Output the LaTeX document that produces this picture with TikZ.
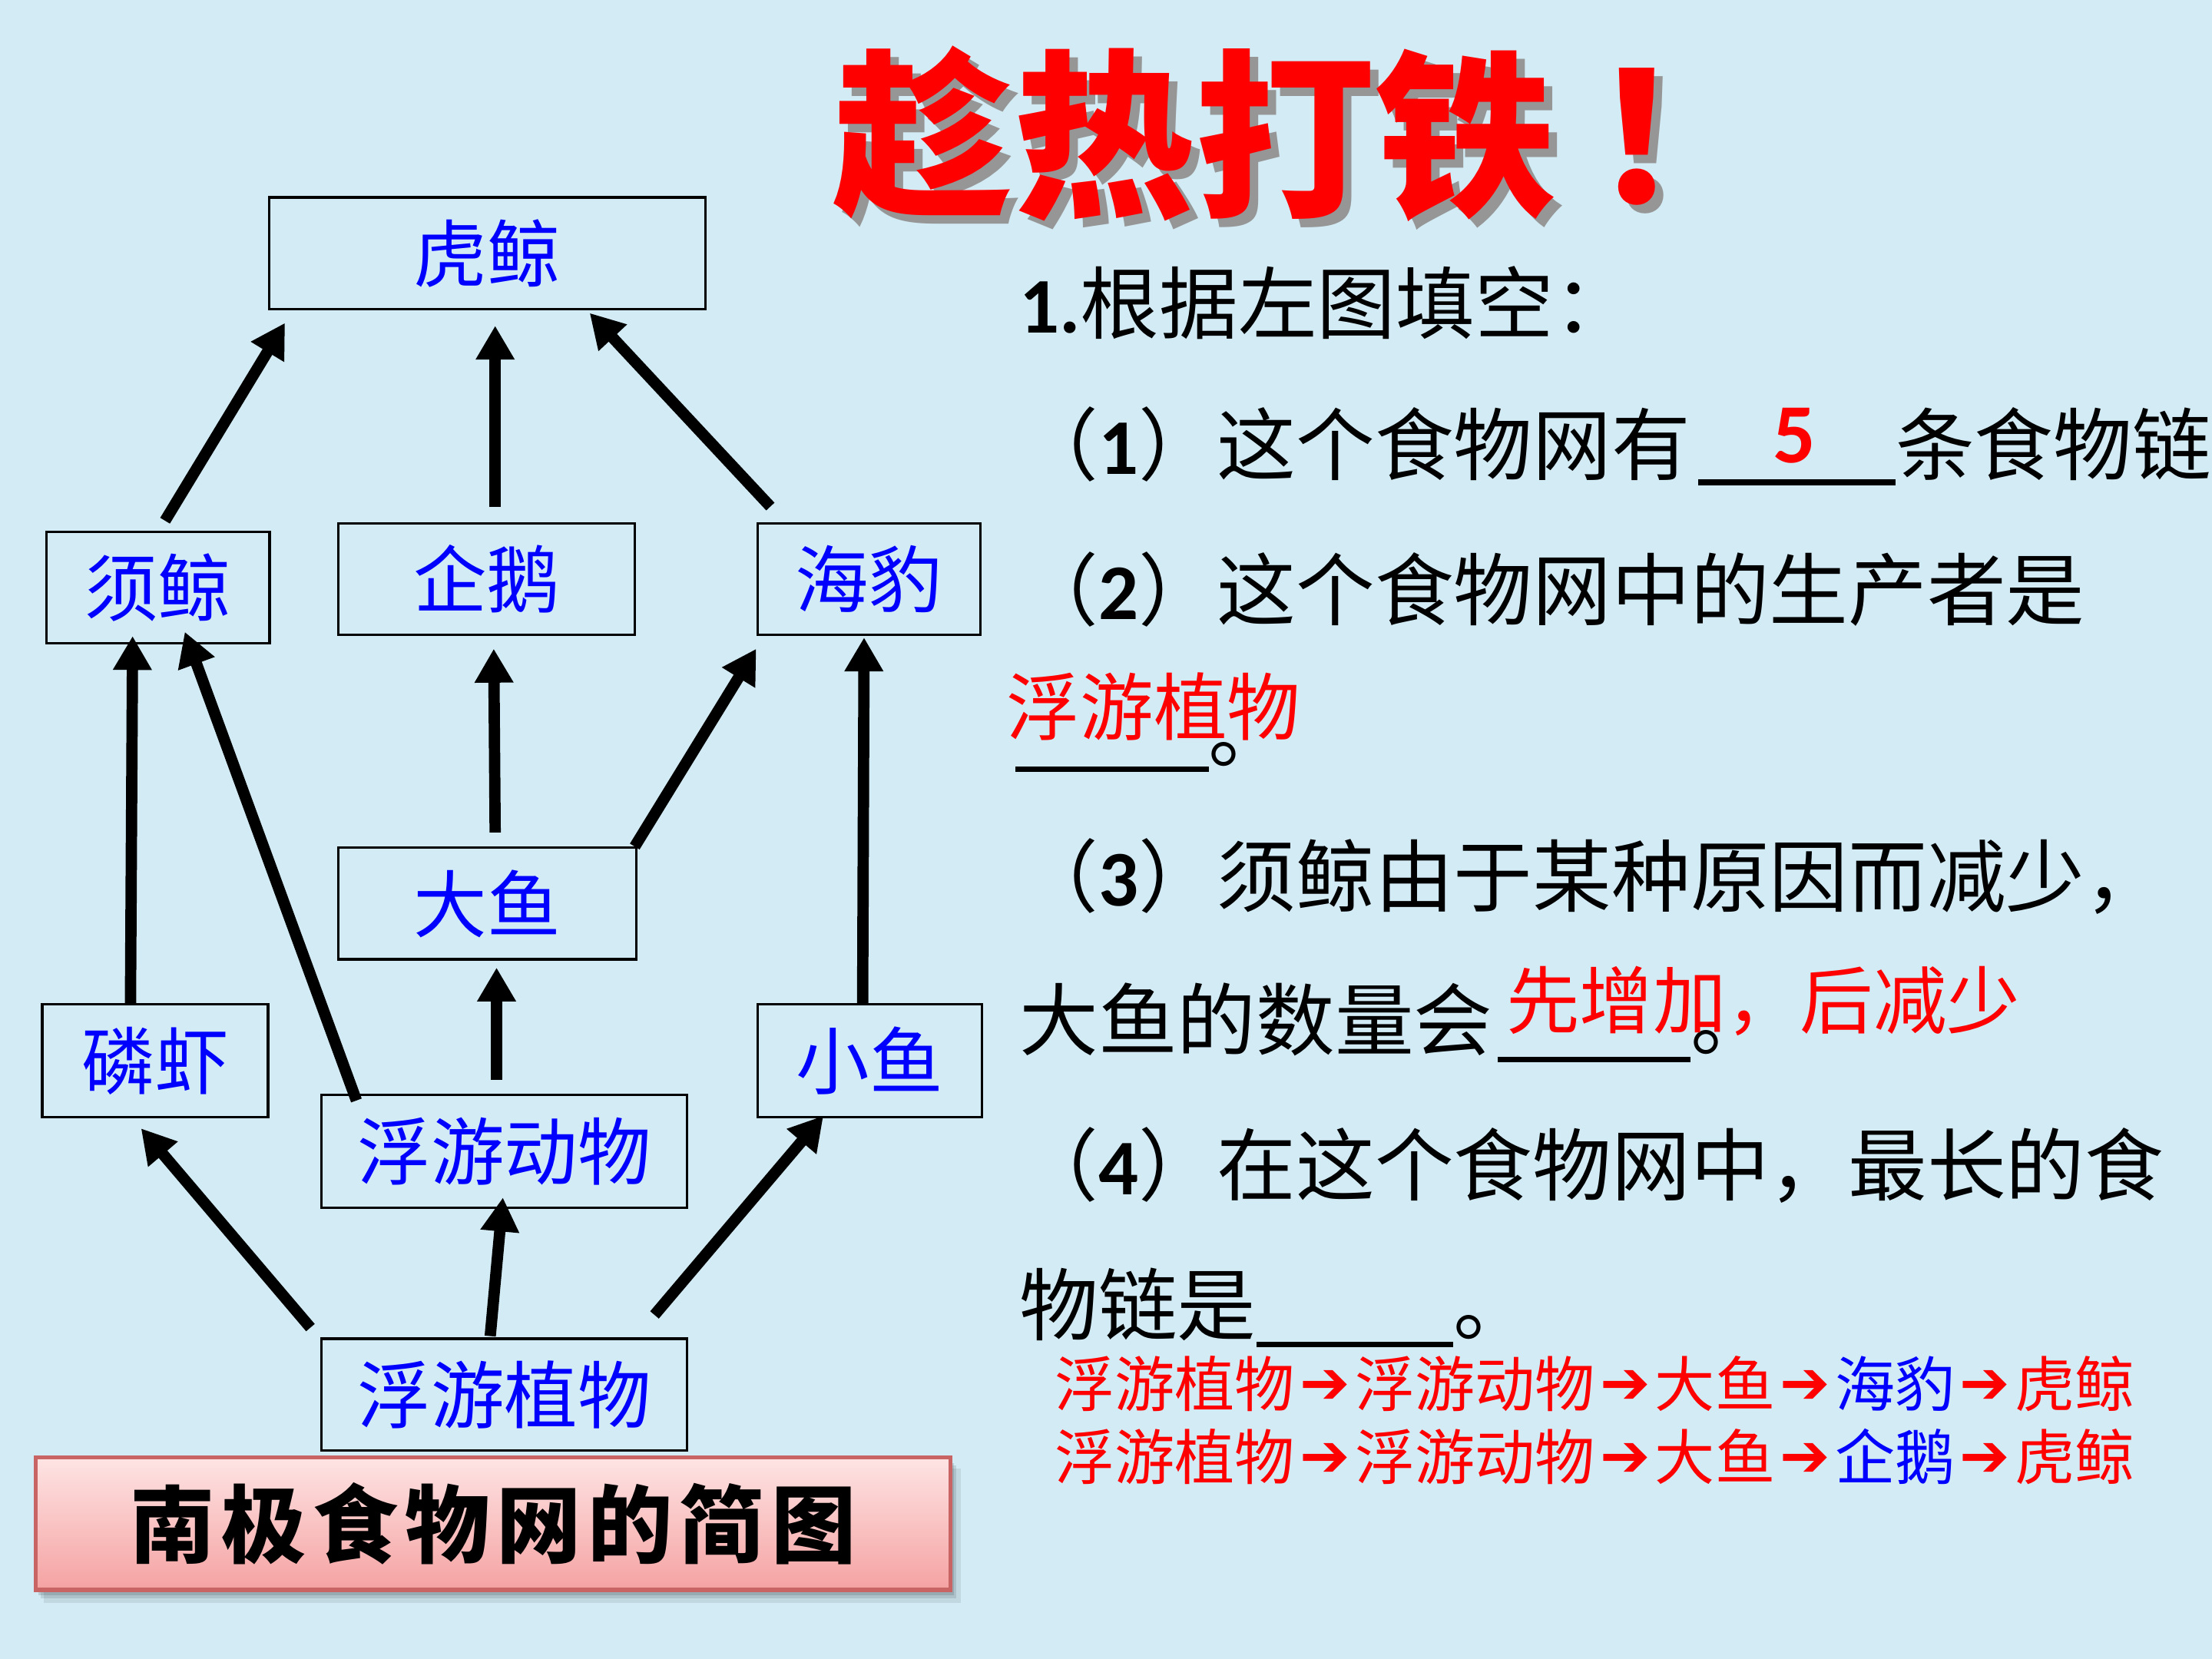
\documentclass[tikz,border=0pt]{standalone}
\usepackage{fontspec}
\newfontfamily\cjk{Noto Sans CJK SC}
\newfontfamily\cjkls[LetterSpace=8]{Noto Sans CJK SC}
\newfontfamily\lat{Carlito}
\newfontfamily\dv{DejaVu Sans}
\usetikzlibrary{arrows.meta,calc}
\definecolor{bgblue}{RGB}{210,235,245}
\definecolor{pinktop}{RGB}{254,228,228}
\definecolor{pinkbot}{RGB}{245,162,162}
\definecolor{pinkedge}{RGB}{200,100,100}
\definecolor{shadowgray}{RGB}{150,150,150}
\newcommand\dg[1]{{\lat\bfseries #1}}
\newcommand\chainarr{\makebox[1em]{\raisebox{0.05em}{\dv\bfseries ➔}}}
\begin{document}
\begin{tikzpicture}[x=0.01cm,y=-0.01cm,
  box/.style={draw=black,line width=0.5pt,inner sep=0pt,text=blue,font=\cjk\fontsize{14.8pt}{16pt}\selectfont},
  arr/.style={line width=0.08cm,-{Triangle[length=0.24cm,width=0.26cm]}},
  txt/.style={anchor=base west,inner sep=0pt,font=\cjk\fontsize{15.9pt}{17pt}\selectfont},
  redtxt/.style={anchor=base west,inner sep=0pt,text=red,font=\cjk\fontsize{14.8pt}{16pt}\selectfont},
  chain/.style={anchor=base west,inner sep=0pt,text=red,font=\cjk\fontsize{12.1pt}{13pt}\selectfont},
  titlefont/.style={anchor=base west,inner sep=0pt,font=\cjk\bfseries\fontsize{36.4pt}{40pt}\selectfont}
]
\useasboundingbox (0,0) rectangle (1568,1176);
\fill[bgblue] (0,0) rectangle (1568,1176);
\begin{scope}
\clip (0,0) rectangle (1568,1176);

% title
\node[titlefont,text=shadowgray] (titleshadow) at (596,150) {趁热打铁\kern0.2em！};
\node[titlefont,text=red] (title) at (590,144) {趁热打铁\kern0.2em！};

% food web boxes
\node[box,minimum width=3.09cm,minimum height=0.79cm] (hj) at (345.5,179.5) {虎鲸};
\node[box,minimum width=1.58cm,minimum height=0.79cm] (xj) at (112,416.5) {须鲸};
\node[box,minimum width=2.10cm,minimum height=0.79cm] (qe) at (345,410.5) {企鹅};
\node[box,minimum width=1.58cm,minimum height=0.79cm] (hb) at (616,410.5) {海豹};
\node[box,minimum width=2.11cm,minimum height=0.79cm] (dy) at (345.5,640.5) {大鱼};
\node[box,minimum width=1.60cm,minimum height=0.80cm] (lx) at (110,752) {磷虾};
\node[box,minimum width=2.59cm,minimum height=0.80cm] (fd) at (357.5,816) {浮游动物};
\node[box,minimum width=1.59cm,minimum height=0.80cm] (xy) at (616.5,752) {小鱼};
\node[box,minimum width=2.59cm,minimum height=0.79cm] (fz) at (357.5,988.5) {浮游植物};

% arrows
\draw[arr] ($(xj.north)+(5,-7)$) -- ($(hj.south west)+(12,9)$);
\draw[arr] ($(qe.north)+(6,-11)$) -- ($(hj.south)+(5.5,11)$);
\draw[arr] ($(hb.north west)+(10,-11)$) -- ($(hj.south)+(72.5,2)$);
\draw[arr] ($(lx.north)+(-17.5,0)$) -- ($(xj.south)+(-18,-6)$);
\draw[arr] ($(fd.north west)+(25.6,5)$) -- ($(xj.south)+(19,-9)$);
\draw[arr] ($(dy.north)+(5.5,-10)$) -- ($(qe.south)+(5,9)$);
\draw[arr] ($(dy.north east)+(-2,0)$) -- ($(hb.south west)+(0,9)$);
\draw[arr] ($(xy.north)+(-5,0)$) -- ($(hb.south)+(-3.5,1)$);
\draw[arr] ($(fd.north)+(-5.5,-9.5)$) -- ($(dy.south)+(6.5,5)$);
\draw[arr] ($(fz.north west)+(-7,-7)$) -- ($(lx.south)+(-10,7)$);
\draw[arr] ($(fz.north)+(-10,-1)$) -- ($(fd.south)+(-1,-8)$);
\draw[arr] ($(fz.north east)+(-24,-16)$) -- ($(xy.south west)+(47.6,-2)$);

% caption box with shadow
\fill[black,opacity=0.08] (31,1041) rectangle (681,1136);
\fill[black,opacity=0.10] (29,1039) rectangle (678,1133);
\fill[black,opacity=0.12] (27,1037) rectangle (676,1131);
\node[draw=pinkedge,line width=0.8pt,top color=pinktop,bottom color=pinkbot,
      minimum width=6.48cm,minimum height=0.94cm,inner sep=0pt,
      font=\cjkls\bfseries\fontsize{17.1pt}{18pt}\selectfont] (cap) at (349.5,1080) {南极食物网的简图};

% questions
\node[txt] (q0) at (722,236) {\dg{1.}根据左图填空：};
\node[txt] (q1) at (722,336) {（\dg{1}）这个食物网有\hspace{0.1em}\rule[-0.14em]{2.5em}{0.07em}条食物链};
\node[anchor=base,inner sep=0pt,text=red,font=\lat\bfseries\fontsize{17pt}{18pt}\selectfont] (a1) at (1272,328) {5};
\node[txt] (q2) at (722,439) {（\dg{2}）这个食物网中的生产者是};
\node[redtxt] (a2) at (713,521) {浮游植物};
\node[txt] (q2b) at (719,540) {\rule[-0.13em]{2.45em}{0.07em}。};
\node[txt] (q3) at (722,642) {（\dg{3}）须鲸由于某种原因而减少，};
\node[txt] (q3b) at (722,744) {大鱼的数量会\hspace{0.06em}\rule[-0.16em]{2.45em}{0.07em}。};
\node[redtxt] (a3) at (1067,729) {先增加，后减少};
\node[txt] (q4) at (722,847) {（\dg{4}）在这个食物网中，最长的食};
\node[txt] (q4b) at (722,946) {物链是\rule[-0.16em]{2.5em}{0.07em}。};

% answer chains
\node[chain] (ch1) at (747,997) {浮游植物\chainarr 浮游动物\chainarr 大鱼\chainarr{\color{blue}海豹}\chainarr 虎鲸};
\node[chain] (ch2) at (747,1049) {浮游植物\chainarr 浮游动物\chainarr 大鱼\chainarr{\color{blue}企鹅}\chainarr 虎鲸};
\end{scope}
\end{tikzpicture}
\end{document}
